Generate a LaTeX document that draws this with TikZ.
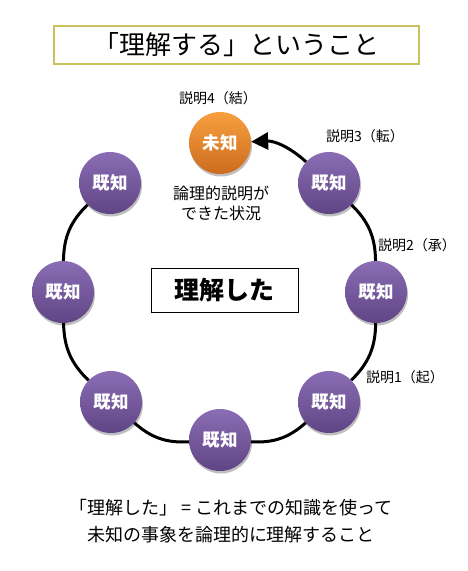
\documentclass[tikz,border=0pt]{standalone}
\usepackage{fontspec}
\newfontfamily\jp{Noto Sans CJK JP}
\usetikzlibrary{arrows.meta,shadows}
\definecolor{ptop}{HTML}{8A6DB4}
\definecolor{pmid}{HTML}{7E5FA8}
\definecolor{pbot}{HTML}{604585}
\definecolor{otop}{HTML}{F7A03F}
\definecolor{omid}{HTML}{F08F2E}
\definecolor{obot}{HTML}{CC6C1E}
\definecolor{titleframe}{HTML}{C9C15B}
\begin{document}
\begin{tikzpicture}[x=1pt,y=-1pt,
  ball/.style={circle, minimum size=62pt, inner sep=0pt, text=white,
    font=\jp\bfseries\fontsize{17.5}{17.5}\selectfont,
    drop shadow={shadow xshift=1pt, shadow yshift=-2.5pt, opacity=0.25, fill=black}},
  known/.style={ball, top color=ptop, middle color=pmid, bottom color=pbot},
  unknown/.style={ball, top color=otop, middle color=omid, bottom color=obot},
  lbl/.style={font=\jp\fontsize{14}{14}\selectfont, inner sep=0pt},
  conn/.style={line width=3pt, black},
]
\useasboundingbox (0,0) rectangle (467,571);
% title
\node[draw=titleframe, line width=1.2pt, minimum width=365pt, minimum height=38pt,
  inner sep=0pt, font=\jp\fontsize{26}{26}\selectfont] (title) at (236.5,45) {「理解する」ということ};
% centre box
\node[draw=black, line width=0.9pt, minimum width=147pt, minimum height=44pt,
  inner sep=0pt, font=\jp\bfseries\fontsize{25}{25}\selectfont] (centre) at (224.5,290) {理解した};
% balls
\node[unknown] (M) at (220,143) {未知};
\node[known] (TR) at (329,183) {既知};
\node[known] (TL) at (110,183) {既知};
\node[known] (L) at (63,292) {既知};
\node[known] (R) at (376,292) {既知};
\node[known] (LL) at (111,402) {既知};
\node[known] (LR) at (329,402) {既知};
\node[known] (B) at (220,440) {既知};
% connectors
\draw[conn] (TL) to[bend right=22.5] (L);
\draw[conn] (L) to[bend right=22.5] (LL);
\draw[conn] (LL) to[bend right=22.5] (B);
\draw[conn] (B) to[bend right=22.5] (LR);
\draw[conn] (LR) to[bend right=22.5] (R);
\draw[conn] (R) to[bend right=22.5] (TR);
\draw[conn, -{Triangle[length=17pt,width=17pt]}] (TR) to[bend right=22.5] (M);
% labels
\node[lbl] (l4) at (218,98) {説明4（結）};
\node[lbl] (l3) at (365,136) {説明3（転）};
\node[lbl] (l2) at (417,245) {説明2（承）};
\node[lbl] (l1) at (405,377) {説明1（起）};
\node[font=\jp\fontsize{16}{20}\selectfont, align=center, inner sep=0pt] (desc) at (221,203) {論理的説明が\\できた状況};
% bottom text
\node[font=\jp\fontsize{18}{27}\selectfont, align=center, inner sep=0pt] (note) at (231,521)
  {「理解した」 = これまでの知識を使って\\未知の事象を論理的に理解すること};
\end{tikzpicture}
\end{document}
